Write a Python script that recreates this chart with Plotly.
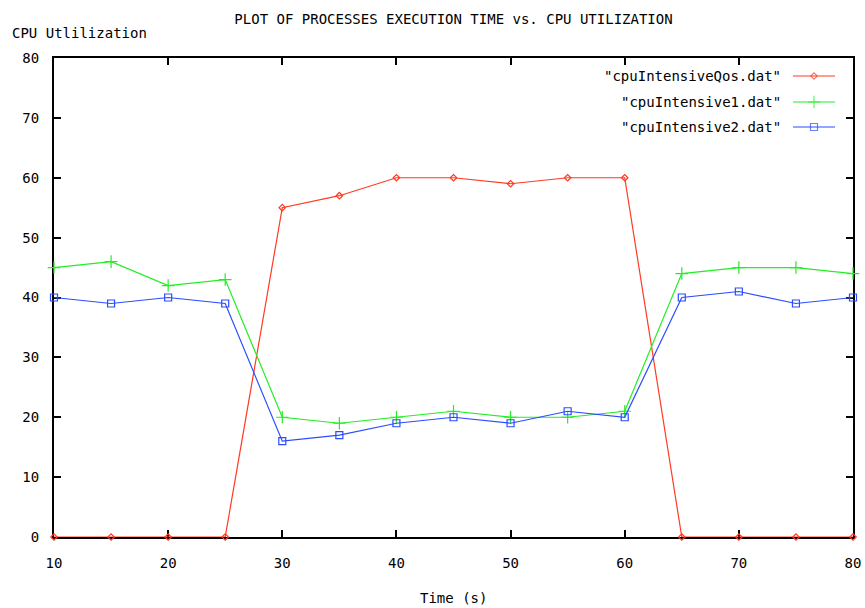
import plotly.graph_objects as go

# ---- data ----
time_s = [10, 15, 20, 25, 30, 35, 40, 45, 50, 55, 60, 65, 70, 75, 80]
cpu_qos = [0, 0, 0, 0, 55, 57, 60, 60, 59, 60, 60, 0, 0, 0, 0]
cpu_1 = [45, 46, 42, 43, 20, 19, 20, 21, 20, 20, 21, 44, 45, 45, 44]
cpu_2 = [40, 39, 40, 39, 16, 17, 19, 20, 19, 21, 20, 40, 41, 39, 40]
series_names = ['"cpuIntensiveQos.dat"', '"cpuIntensive1.dat"', '"cpuIntensive2.dat"']
x_ticks = [10, 20, 30, 40, 50, 60, 70, 80]
y_ticks = [0, 10, 20, 30, 40, 50, 60, 70, 80]

colors = ["#ff3a22", "#22ee22", "#2a4cff"]
symbols = ["diamond-open", "cross-thin-open", "square-open"]
sizes = [5, 9, 7]
series = [cpu_qos, cpu_1, cpu_2]

FONT = "DejaVu Sans Mono"
W, H = 865, 608
L, R, T, B = 54, 12, 58, 71

fig = go.Figure()
for name, ys, c, s, sz in zip(series_names, series, colors, symbols, sizes):
    fig.add_trace(go.Scatter(
        x=time_s, y=ys, mode="lines+markers", name=name,
        line=dict(color=c, width=1.2),
        marker=dict(symbol=s, size=sz, color=c, line=dict(color=c, width=1.2)),
        cliponaxis=False, showlegend=False,
    ))

# custom gnuplot-style key (text right-aligned, sample to the right)
plot_w = W - L - R
plot_h = H - T - B
key_rows_px = [76, 102, 127]
text_right_px = 783
samp_x0, samp_x1 = 793, 835
for i, (name, c, s, sz) in enumerate(zip(series_names, colors, symbols, sizes)):
    yp = 1 - (key_rows_px[i] - T) / plot_h
    fig.add_annotation(
        text=name, xref="paper", yref="paper",
        x=(text_right_px - L) / plot_w, y=yp, xanchor="right", yanchor="middle",
        showarrow=False, font=dict(family=FONT, size=14, color="black"),
    )
    xs = [(samp_x0 - L) / plot_w, ((samp_x0 + samp_x1) / 2 - L) / plot_w, (samp_x1 - L) / plot_w]
    fig.add_trace(go.Scatter(
        x=xs, y=[yp] * 3, xaxis="x2", yaxis="y2", mode="lines+markers",
        line=dict(color=c, width=1.2),
        marker=dict(symbol=s, size=[0, sz, 0], color=c, line=dict(color=c, width=1.2)),
        showlegend=False, hoverinfo="skip", cliponaxis=False,
    ))

axis_common = dict(
    showgrid=False, zeroline=False, showline=True, linecolor="black", linewidth=2,
    mirror="ticks", ticks="inside", ticklen=7, tickwidth=2, tickcolor="black",
    tickfont=dict(family=FONT, size=14, color="black"), layer="below traces",
    automargin=False,
)

fig.update_layout(
    width=W, height=H,
    margin=dict(l=L, r=R, t=T, b=B, autoexpand=False),
    paper_bgcolor="white", plot_bgcolor="white",
    font=dict(family=FONT, size=14, color="black"),
    title=dict(text="PLOT OF PROCESSES EXECUTION TIME vs. CPU UTILIZATION",
               x=(L + plot_w / 2) / W, xanchor="center",
               y=1 - 19 / H, yanchor="middle", yref="container",
               font=dict(family=FONT, size=14, color="black")),
    xaxis=dict(range=[10, 80], tickvals=x_ticks, ticktext=[str(v) for v in x_ticks],
               ticklabelstandoff=12, **axis_common),
    yaxis=dict(range=[0, 80], tickvals=y_ticks, ticktext=[str(v) for v in y_ticks],
               ticklabelstandoff=10, **axis_common),
    xaxis2=dict(range=[0, 1], overlaying="x", visible=False),
    yaxis2=dict(range=[0, 1], overlaying="y", visible=False),
    showlegend=False,
)

fig.add_annotation(text="CPU Utlilization", xref="paper", yref="paper",
                   x=0, y=1, xshift=-(L - 10), yshift=(T - 33),
                   xanchor="left", yanchor="middle", showarrow=False,
                   font=dict(family=FONT, size=14, color="black"))
fig.add_annotation(text="Time (s)", xref="paper", yref="paper",
                   x=0.5, y=0, yshift=-(598 - (H - B)),
                   xanchor="center", yanchor="middle", showarrow=False,
                   font=dict(family=FONT, size=14, color="black"))

fig.write_html("out.html", config={"displayModeBar": False},
               post_script="document.body.style.margin='0';document.body.style.overflow='hidden';")
